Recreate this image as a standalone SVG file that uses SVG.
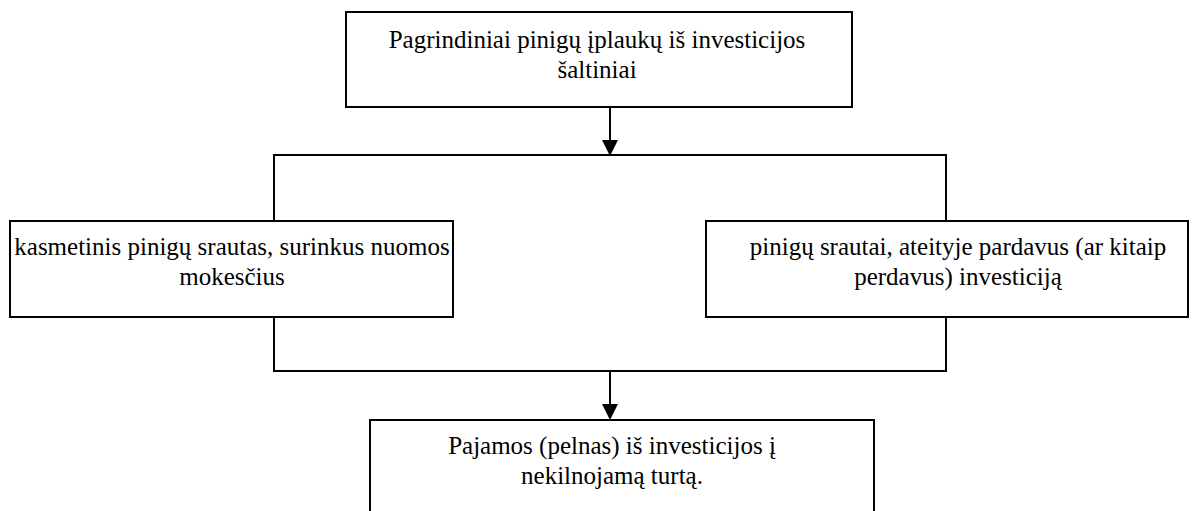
<svg xmlns="http://www.w3.org/2000/svg" width="1201" height="511" viewBox="0 0 1201 511">
  <style>
    .box { fill: #ffffff; stroke: #000000; stroke-width: 2; }
    .wire { fill: none; stroke: #000000; stroke-width: 2; }
  </style>
  <defs>
    <path id="head" d="M-8,-16 L8,-16 L0,0 Z" fill="#000000"/>
  </defs>
  <rect width="1201" height="511" fill="#ffffff"/>

  <g id="connectors">
    <path class="wire" d="M610,107 V142"/>
    <use href="#head" x="610" y="156"/>
    <path class="wire" d="M274,221 V155 H946 V221"/>
    <path class="wire" d="M274,317 V371 H946 V317"/>
    <path class="wire" d="M610,371 V406"/>
    <use href="#head" x="610" y="420"/>
  </g>

  <g font-family="'Liberation Serif', 'Times New Roman', serif" font-size="25" fill="#000000" text-anchor="middle">
    <g id="node-sources">
      <rect class="box" x="346" y="12" width="506" height="95"/>
      <text x="597" y="48">Pagrindiniai pinigų įplaukų iš investicijos</text>
      <text x="597" y="78">šaltiniai</text>
    </g>

    <g id="node-annual">
      <rect class="box" x="10" y="221" width="443" height="96"/>
      <text x="232" y="255">kasmetinis pinigų srautas, surinkus nuomos</text>
      <text x="232" y="285">mokesčius</text>
    </g>

    <g id="node-resale">
      <rect class="box" x="706" y="221" width="482" height="96"/>
      <text x="958" y="255">pinigų srautai, ateityje pardavus (ar kitaip</text>
      <text x="958" y="285">perdavus) investiciją</text>
    </g>

    <g id="node-income">
      <rect class="box" x="370" y="420" width="504" height="100"/>
      <text x="612" y="454">Pajamos (pelnas) iš investicijos į</text>
      <text x="612" y="484">nekilnojamą turtą.</text>
    </g>
  </g>
</svg>
